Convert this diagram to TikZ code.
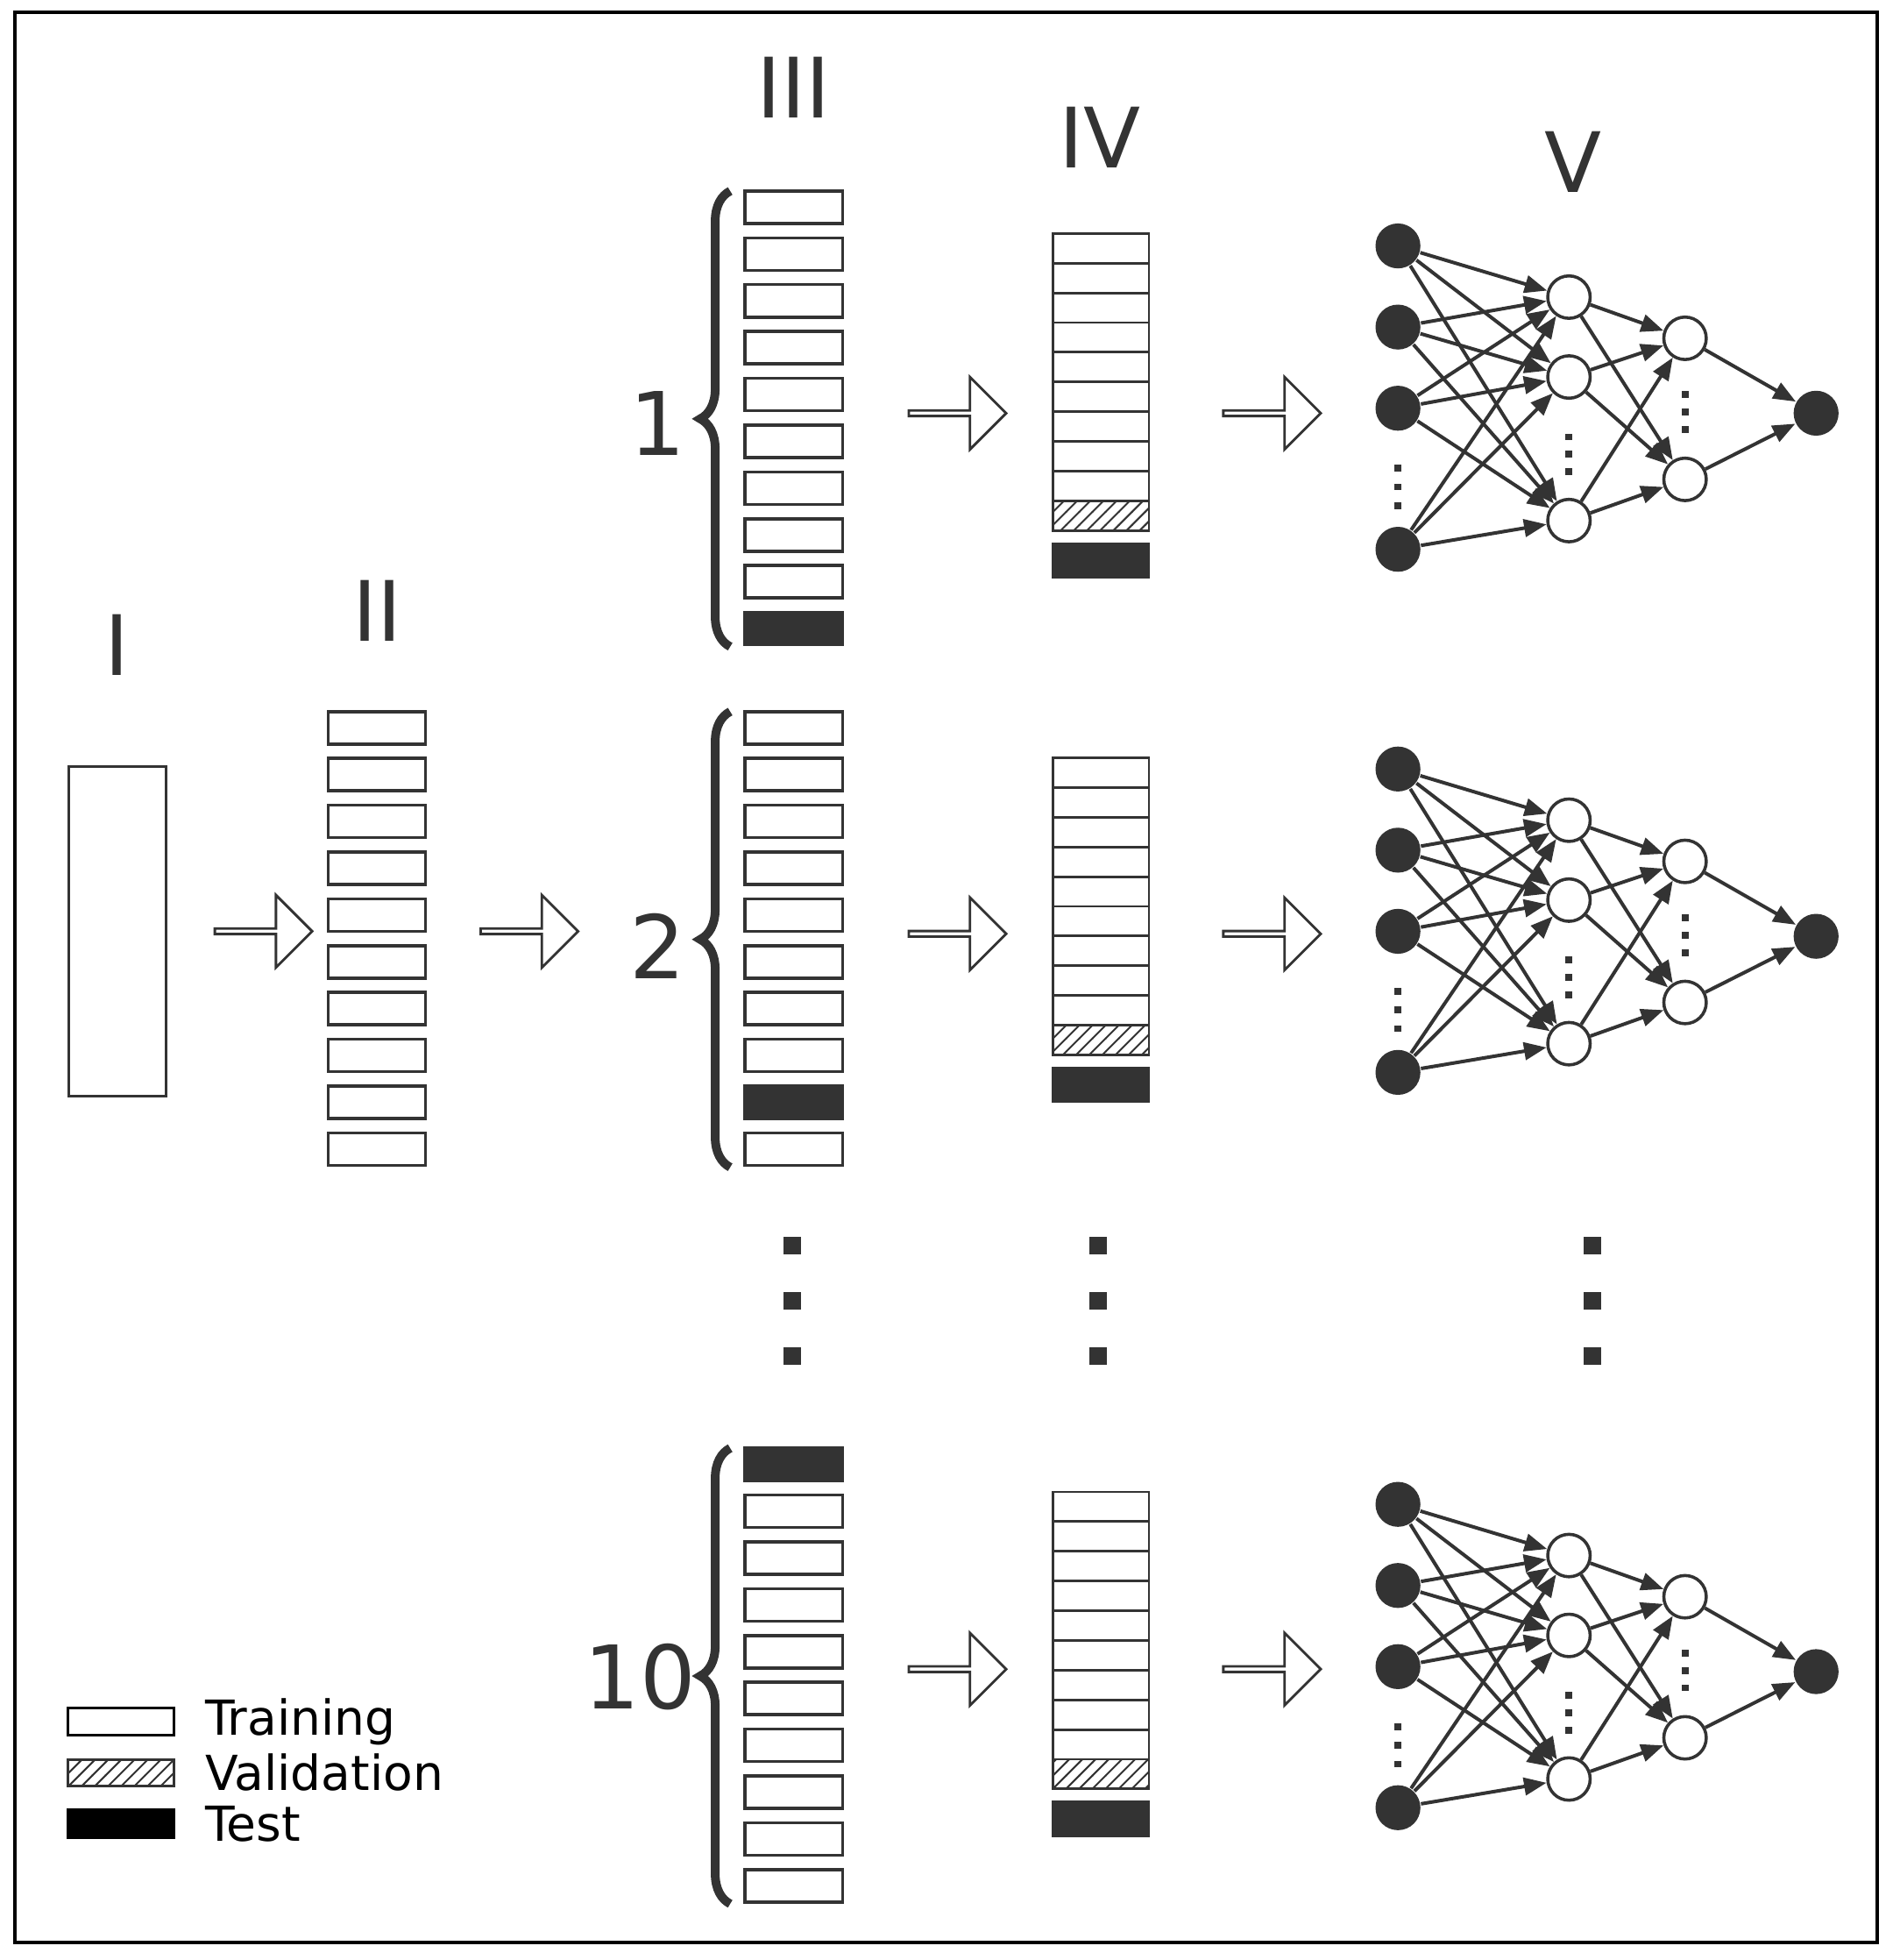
\documentclass[tikz,border=0pt]{standalone}
\usepackage{fontspec}
\setmainfont{DejaVu Sans}
\usetikzlibrary{arrows.meta, shapes.arrows, decorations.pathreplacing, patterns}
\definecolor{ink}{HTML}{333333}
\tikzset{
  cvbox/.style={rectangle, draw=ink, line width=0.25mm, minimum width=7.8mm, minimum height=2.6mm, inner sep=0pt, fill=white},
  cvtest/.style={cvbox, fill=ink},
  cvrow/.style={rectangle, draw=ink, line width=0.2mm, minimum width=7.7mm, minimum height=2.38mm, inner sep=0pt, outer sep=0pt},
  cvval/.style={cvrow, pattern=north east lines, pattern color=ink},
  cvstep/.style={single arrow, draw=ink, line width=0.2mm, minimum height=7.8mm, minimum width=5.8mm, single arrow head extend=1.2mm, single arrow tip angle=90, inner sep=0pt, fill=white},
  cvbrace/.style={draw=ink, line width=0.7mm, decorate, decoration={brace, amplitude=2.4mm}},
  nnin/.style={circle, fill=ink, minimum size=3.6mm, inner sep=0pt},
  nnhid/.style={circle, draw=ink, line width=0.25mm, fill=white, minimum size=3.4mm, inner sep=0pt},
  nnedge/.style={ink, line width=0.28mm, -{Triangle[length=1.8mm, width=1.4mm]}},
  nndot/.style={rectangle, fill=ink, minimum size=0.55mm, inner sep=0pt},
  bigdot/.style={rectangle, fill=ink, minimum size=1.4mm, inner sep=0pt},
  roman/.style={font=\fontsize{19}{21}\selectfont, text=ink},
  fold/.style={font=\fontsize{20}{22}\selectfont, text=ink},
  legtext/.style={font=\fontsize{11}{13}\selectfont, anchor=west},
}
% network drawn at vertical offset #1, node names prefixed by #2
\newcommand\cvnet[2]{
  \begin{scope}[shift={(0,#1)}]
    \foreach \i/\y in {1/197, 2/262, 3/327, 4/440}
      \node[nnin] (#2in\i) at (1120,\y) {};
    \foreach \i/\y in {1/238, 2/302, 3/417}
      \node[nnhid] (#2ha\i) at (1257,\y) {};
    \foreach \i/\y in {1/271, 2/384}
      \node[nnhid] (#2hb\i) at (1350,\y) {};
    \node[nnin] (#2out) at (1455,331) {};
    \foreach \y in {375, 390, 405} \node[nndot] at (1120,\y) {};
    \foreach \y in {350, 364, 378} \node[nndot] at (1257,\y) {};
    \foreach \y in {316, 330, 344} \node[nndot] at (1350,\y) {};
    \foreach \a in {1,...,4}
      \foreach \b in {1,2,3}
        \draw[nnedge] (#2in\a) -- (#2ha\b);
    \foreach \a in {1,2,3}
      \foreach \b in {1,2}
        \draw[nnedge] (#2ha\a) -- (#2hb\b);
    \foreach \a in {1,2}
      \draw[nnedge] (#2hb\a) -- (#2out);
  \end{scope}
}

\begin{document}
\begin{tikzpicture}[x=0.1mm, y=-0.1mm]
  \useasboundingbox (0,0) rectangle (1516,1570);
  \draw[black, line width=0.25mm] (12,10) rectangle (1504,1556);

  % Column headings.
  \node[roman] (tI) at (94,517) {I};
  \node[roman] (tII) at (302,489) {II};
  \node[roman] (tIII) at (636,70) {III};
  \node[roman] (tIV) at (881,110) {IV};
  \node[roman] (tV) at (1260,130) {V};

  % Whole data set and its ten parts.
  \node[rectangle, draw=ink, line width=0.25mm, minimum width=7.8mm, minimum height=26.4mm, inner sep=0pt] (data) at (94,746) {};
  \foreach \i in {0,...,9}
    \node[cvbox] (part\i) at (302,583+\i*37.5) {};
  \node[cvstep] (s1) at (210,746) {};
  \node[cvstep] (s2) at (423,746) {};

  % Folds 1, 2 and 10.
  \foreach \f/\y/\t in {a/153/9, b/570/8, c/1160/0}{
    \foreach \i in {0,...,9}{
      \ifnum\i=\t \def\st{cvtest}\else\def\st{cvbox}\fi
      \node[\st] (\f\i) at (636,\y+13+\i*37.5) {};
    }
    \draw[cvbrace] (585,\y+365) -- (585,\y);
  }
  \node[fold] (n1) at (527,339) {1};
  \node[fold] (n2) at (527,758) {2};
  \node[fold] (n10) at (513,1343) {10};

  % Training / validation / test stacks.
  \foreach \f/\y in {a/187, b/607, c/1195}{
    \foreach \i in {0,...,8}
      \node[cvrow] (\f r\i) at (882,\y+11.9+\i*23.8) {};
    \node[cvval] (\f v) at (882,\y+11.9+9*23.8) {};
    \node[cvrow, fill=ink, minimum height=2.7mm] (\f t) at (882,\y+262) {};
  }

  % Step arrows.
  \foreach \y [count=\k] in {331, 748, 1337}{
    \node[cvstep] (sa\k) at (766,\y) {};
    \node[cvstep] (sb\k) at (1018,\y) {};
  }

  % Networks.
  \cvnet{0}{p}
  \cvnet{419}{q}
  \cvnet{1008}{r}

  % Omitted folds.
  \foreach \x in {635, 880, 1276}
    \foreach \y in {998, 1042, 1086}
      \node[bigdot] at (\x,\y) {};

  % Legend.
  \node[cvbox, minimum width=8.5mm, minimum height=2.2mm, draw=black] (ltr) at (97,1379) {};
  \node[cvbox, minimum width=8.5mm, minimum height=2.1mm, pattern=north east lines, pattern color=ink] (lva) at (97,1420) {};
  \node[cvbox, minimum width=8.5mm, minimum height=2.2mm, fill=black, draw=black] (lte) at (97,1461) {};
  \node[legtext] (ttr) at (152,1379) {Training};
  \node[legtext] (tva) at (152,1420) {Validation};
  \node[legtext] (tte) at (152,1461) {Test};
\end{tikzpicture}
\end{document}
